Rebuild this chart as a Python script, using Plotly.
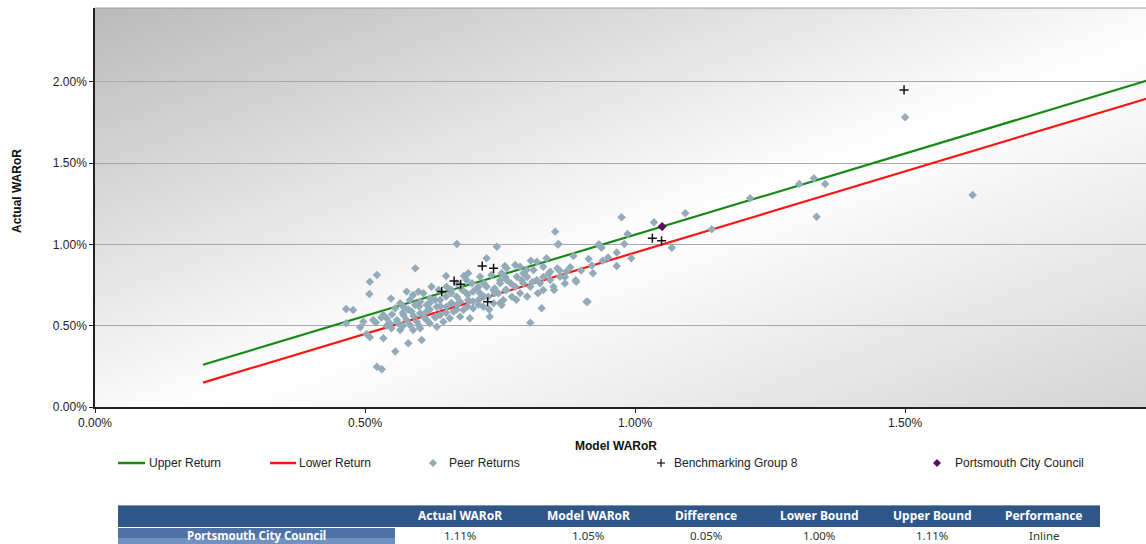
import base64
import plotly.graph_objects as go

# ---------------- data ----------------
line_x = [0.20, 2.00]
upper_y = [0.26, 2.06]
lower_y = [0.15, 1.95]

peer_model = [
    0.670, 0.744, 0.857, 0.933, 0.966, 0.966, 0.725, 0.593, 0.522, 0.509,
    0.508, 0.465, 0.478, 0.465, 0.491, 0.503, 0.509, 0.534, 0.556, 0.580,
    0.605, 0.522, 0.531, 0.548, 0.565, 0.540, 0.549, 0.568, 0.589, 0.633,
    0.645, 0.694, 0.731, 0.806, 0.827, 0.910, 0.753, 0.891, 0.922, 0.873,
    0.856, 0.836, 0.807, 0.778, 0.759, 0.886, 0.691, 0.650, 0.683,
    0.599, 0.608, 0.583, 0.593, 0.620, 0.639, 0.660, 0.670, 0.688, 0.707,
    0.713, 0.698, 0.725, 0.738, 0.750, 0.762, 0.781, 0.793, 0.812, 0.830,
    0.843, 0.818, 0.806, 0.787, 0.772, 0.756, 0.738, 0.719, 0.700, 0.682,
    0.664, 0.651, 0.633, 0.614, 0.602, 0.586, 0.571, 0.559, 0.577, 0.596,
    0.614, 0.630, 0.534, 0.546, 0.565, 0.583, 0.602, 0.620, 0.515, 0.497,
    0.660, 0.676, 0.691, 0.710, 0.728, 0.747, 0.762, 0.778, 0.793, 0.824,
    0.843, 0.861, 0.849, 0.830, 0.676, 0.657, 0.639, 0.688, 0.670, 0.651,
    0.636, 0.623, 0.713, 0.734, 0.753, 0.787, 0.762, 0.818, 0.799, 0.571,
    0.556, 0.602, 0.614, 0.577, 0.589,
    0.975, 1.035, 1.093, 0.986, 0.933, 0.938, 0.980, 0.914, 0.993, 1.068,
    1.142, 0.912, 1.213, 1.304, 1.331, 1.352, 1.336, 1.625, 1.500, 0.852,
    0.858,
    0.60, 0.62, 0.63, 0.65, 0.66, 0.68, 0.69, 0.70, 0.71, 0.72,
    0.74, 0.75, 0.76, 0.77, 0.79, 0.80, 0.81, 0.83, 0.84, 0.86,
    0.87, 0.88, 0.90, 0.92, 0.94, 0.95, 0.62, 0.64, 0.66, 0.67,
    0.70, 0.72, 0.74, 0.76, 0.58, 0.57, 0.59, 0.61, 0.55, 0.56,
    0.53, 0.52, 0.54, 0.57, 0.60, 0.63, 0.65, 0.67, 0.69, 0.71,
    0.73, 0.75, 0.78, 0.80, 0.82, 0.85, 0.87, 0.89,
]
peer_actual = [
    1.003, 0.986, 0.999, 0.997, 0.950, 0.868, 0.915, 0.853, 0.812, 0.771,
    0.695, 0.603, 0.597, 0.515, 0.490, 0.449, 0.429, 0.423, 0.341, 0.392,
    0.412, 0.248, 0.232, 0.668, 0.638, 0.546, 0.484, 0.494, 0.474, 0.494,
    0.525, 0.546, 0.556, 0.519, 0.607, 0.648, 0.628, 0.771, 0.823, 0.833,
    0.853, 0.915, 0.900, 0.874, 0.868, 0.929, 0.823, 0.806, 0.806,
    0.710, 0.700, 0.658, 0.628, 0.668, 0.658, 0.720, 0.679, 0.700, 0.730,
    0.700, 0.761, 0.740, 0.720, 0.761, 0.782, 0.802, 0.823, 0.843, 0.863,
    0.833, 0.782, 0.740, 0.700, 0.679, 0.658, 0.638, 0.617, 0.607, 0.597,
    0.587, 0.617, 0.617, 0.587, 0.577, 0.587, 0.566, 0.535, 0.535, 0.525,
    0.535, 0.556, 0.566, 0.515, 0.474, 0.505, 0.484, 0.515, 0.535, 0.525,
    0.638, 0.648, 0.658, 0.658, 0.679, 0.700, 0.720, 0.740, 0.761, 0.761,
    0.782, 0.802, 0.740, 0.720, 0.556, 0.546, 0.566, 0.782, 0.761, 0.740,
    0.720, 0.740, 0.802, 0.812, 0.823, 0.863, 0.853, 0.894, 0.843, 0.617,
    0.607, 0.648, 0.628, 0.710, 0.689,
    1.167, 1.137, 1.192, 1.065, 1.001, 0.980, 1.003, 0.911, 0.915, 0.980,
    1.093, 0.648, 1.284, 1.372, 1.407, 1.372, 1.171, 1.305, 1.783, 1.079,
    1.003,
    0.62, 0.64, 0.66, 0.68, 0.70, 0.72, 0.69, 0.71, 0.74, 0.76,
    0.73, 0.78, 0.80, 0.76, 0.78, 0.80, 0.77, 0.80, 0.82, 0.84,
    0.80, 0.86, 0.84, 0.87, 0.90, 0.92, 0.60, 0.62, 0.64, 0.63,
    0.65, 0.68, 0.70, 0.72, 0.60, 0.58, 0.56, 0.55, 0.57, 0.52,
    0.55, 0.52, 0.50, 0.50, 0.50, 0.55, 0.58, 0.60, 0.62, 0.63,
    0.60, 0.64, 0.66, 0.68, 0.70, 0.72, 0.76, 0.78,
]

bench_model = [0.717, 0.738, 0.665, 0.677, 0.642, 0.727, 1.032, 1.049, 1.498]
bench_actual = [0.868, 0.853, 0.775, 0.755, 0.710, 0.648, 1.038, 1.023, 1.951]

council_model = [1.05]
council_actual = [1.11]

x_ticks = [0.0, 0.5, 1.0, 1.5]
y_ticks = [0.0, 0.5, 1.0, 1.5, 2.0]

legend_labels = ["Upper Return", "Lower Return", "Peer Returns",
                 "Benchmarking Group 8", "Portsmouth City Council"]

table_row_label = "Portsmouth City Council"
table_columns = ["Actual WARoR", "Model WARoR", "Difference",
                 "Lower Bound", "Upper Bound", "Performance"]
table_values = ["1.11%", "1.05%", "0.05%", "1.00%", "1.11%", "Inline"]

# ---------------- styling ----------------
GREEN = "#168a16"
RED = "#ff1414"
PEER = "#93abb8"
PURPLE = "#5a0f5e"
FONT = "Liberation Sans, Arial, sans-serif"
TFONT = "Noto Sans, DejaVu Sans, sans-serif"

L, R, T, B = 95, 1146, 8, 407  # plot area in pixels
W, H = 1146, 544


def px(xp):
    return (xp - L) / (R - L)


def py(yp):
    return (B - yp) / (B - T)


fig = go.Figure()
fig.add_trace(go.Scatter(x=line_x, y=upper_y, mode="lines", name=legend_labels[0],
                         line=dict(color=GREEN, width=2.2), hoverinfo="skip"))
fig.add_trace(go.Scatter(x=line_x, y=lower_y, mode="lines", name=legend_labels[1],
                         line=dict(color=RED, width=2.2), hoverinfo="skip"))
fig.add_trace(go.Scatter(x=peer_model, y=peer_actual, mode="markers", name=legend_labels[2],
                         marker=dict(symbol="diamond", size=6.5, color=PEER)))
fig.add_trace(go.Scatter(x=bench_model, y=bench_actual, mode="markers", name=legend_labels[3],
                         marker=dict(symbol="cross-thin", size=6.5, color="#111",
                                     line=dict(color="#111", width=1.5))))
fig.add_trace(go.Scatter(x=council_model, y=council_actual, mode="markers", name=legend_labels[4],
                         marker=dict(symbol="diamond", size=7, color=PURPLE)))

# gradient background
svg = ('<svg xmlns="http://www.w3.org/2000/svg" width="200" height="100" viewBox="0 0 200 100" '
       'preserveAspectRatio="none"><defs><linearGradient id="g" x1="0" y1="0" x2="1" y2="1">'
       '<stop offset="0" stop-color="#bababa"/><stop offset="0.55" stop-color="#ffffff"/>'
       '<stop offset="1" stop-color="#d4d4d4"/></linearGradient></defs>'
       '<rect width="200" height="100" fill="url(#g)"/></svg>')
src = "data:image/svg+xml;base64," + base64.b64encode(svg.encode()).decode()

shapes = []
annotations = []

shapes.append(dict(type="line", xref="paper", yref="paper", x0=0, x1=1, y0=1, y1=1,
                   line=dict(color="#9c9c9c", width=1)))


def label(text, x, y, font, xanchor="center", angle=0):
    return dict(text=text, xref="paper", yref="paper", x=px(x), y=py(y),
                xanchor=xanchor, yanchor="middle", showarrow=False,
                textangle=angle, font=font)


tfont = dict(family=FONT, size=12, color="#111")
annotations.append(label("<b>Model WARoR</b>", 616, 446, tfont))
annotations.append(label("<b>Actual WARoR</b>", 17, 191, tfont, angle=-90))

# legend (manual)
LY = 463
lfont = dict(family=FONT, size=12, color="#222")
shapes.append(dict(type="line", xref="paper", yref="paper", x0=px(118), x1=px(145),
                   y0=py(LY), y1=py(LY), line=dict(color=GREEN, width=2.5)))
shapes.append(dict(type="line", xref="paper", yref="paper", x0=px(270), x1=px(296),
                   y0=py(LY), y1=py(LY), line=dict(color=RED, width=2.5)))


def diamond(cx, cy, r, color):
    path = (f"M {px(cx)},{py(cy - r)} L {px(cx + r)},{py(cy)} "
            f"L {px(cx)},{py(cy + r)} L {px(cx - r)},{py(cy)} Z")
    return dict(type="path", xref="paper", yref="paper", path=path,
                fillcolor=color, line=dict(width=0))


shapes.append(diamond(433, LY, 4, PEER))
shapes.append(diamond(937, LY, 4, PURPLE))
shapes.append(dict(type="line", xref="paper", yref="paper", x0=px(657), x1=px(665),
                   y0=py(LY), y1=py(LY), line=dict(color="#111", width=1.2)))
shapes.append(dict(type="line", xref="paper", yref="paper", x0=px(661), x1=px(661),
                   y0=py(LY - 4), y1=py(LY + 4), line=dict(color="#111", width=1.2)))

for lx, lab in zip([147, 297, 447, 672, 953], legend_labels):
    annotations.append(label(lab, lx, LY, lfont, xanchor="left"))

# table (manual)
HT, HB, RB = 505, 527, 548
shapes.append(dict(type="rect", xref="paper", yref="paper", x0=px(118), x1=px(1100),
                   y0=py(HB), y1=py(HT), fillcolor="#2e5688", line=dict(width=0)))
shapes.append(dict(type="line", xref="paper", yref="paper", x0=px(118), x1=px(1100),
                   y0=py(HT + 0.5), y1=py(HT + 0.5), line=dict(color="#7c96b8", width=1)))
shapes.append(dict(type="rect", xref="paper", yref="paper", x0=px(118), x1=px(395),
                   y0=py(RB), y1=py(HB + 1), fillcolor="#4d72a6", line=dict(width=0)))
shapes.append(dict(type="rect", xref="paper", yref="paper", x0=px(118), x1=px(395),
                   y0=py(RB), y1=py(538), fillcolor="#7192c0", line=dict(width=0)))

hfont = dict(family=TFONT, size=12, color="white")
cfont = dict(family=TFONT, size=11.5, color="#333")
rfont = dict(family=TFONT, size=11.5, color="white")
col_centers = [460, 588, 706, 819, 932, 1044]
for cx, head, val in zip(col_centers, table_columns, table_values):
    annotations.append(label(f"<b>{head}</b>", cx, 515.5, hfont))
    annotations.append(label(val, cx, 535.5, cfont))
annotations.append(label(f"<b>{table_row_label}</b>", 256, 535.5, rfont))

fig.update_layout(
    width=W, height=H,
    margin=dict(l=L, r=W - R, t=T, b=H - B, pad=0),
    paper_bgcolor="white",
    plot_bgcolor="rgba(0,0,0,0)",
    showlegend=False,
    font=dict(family=FONT, size=12, color="#222"),
    images=[dict(source=src, xref="paper", yref="paper", x=0, y=1, sizex=1, sizey=1,
                 xanchor="left", yanchor="top", sizing="stretch", layer="below")],
    shapes=shapes,
    annotations=annotations,
    xaxis=dict(range=[0, 1.946], tickvals=x_ticks,
               ticktext=[f"{v:.2f}%" for v in x_ticks],
               showgrid=False, zeroline=False, showline=True, linecolor="#222",
               linewidth=1.5, ticks="outside", ticklen=4, tickcolor="#222",
               tickfont=dict(size=12, color="#222")),
    yaxis=dict(range=[0, 2.455], tickvals=y_ticks,
               ticktext=[f"{v:.2f}%" for v in y_ticks],
               showgrid=True, gridcolor="#a9a9a9", gridwidth=1, zeroline=False,
               showline=True, linecolor="#222", linewidth=1.5, ticks="outside",
               ticklen=4, tickcolor="#222", tickfont=dict(size=12, color="#222")),
)

fig.write_html(
    "out.html",
    config={"displayModeBar": False},
    post_script="document.body.style.margin='0';document.body.style.overflow='hidden';",
)
